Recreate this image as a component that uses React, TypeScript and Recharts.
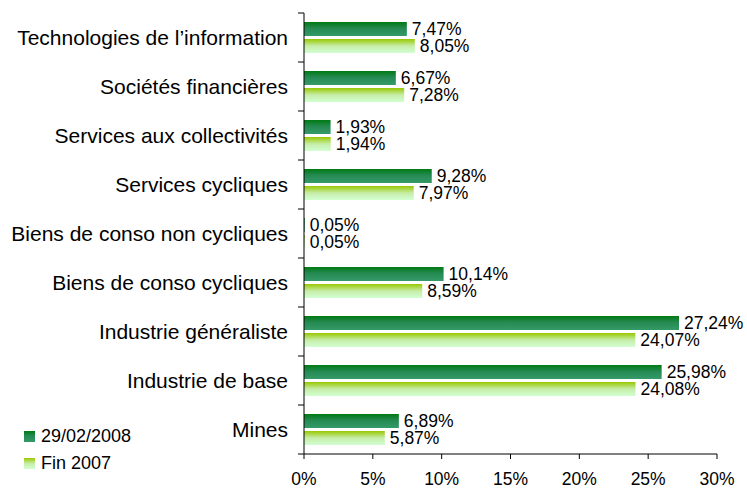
import React from "react";
import { BarChart, Bar, XAxis, YAxis, LabelList } from "recharts";

const categories = [
  "Technologies de l’information",
  "Sociétés financières",
  "Services aux collectivités",
  "Services cycliques",
  "Biens de conso non cycliques",
  "Biens de conso cycliques",
  "Industrie généraliste",
  "Industrie de base",
  "Mines",
];
const feb2008 = [7.47, 6.67, 1.93, 9.28, 0.05, 10.14, 27.24, 25.98, 6.89];
const end2007 = [8.05, 7.28, 1.94, 7.97, 0.05, 8.59, 24.07, 24.08, 5.87];
const xTicks = [0, 5, 10, 15, 20, 25, 30];
const seriesNames = ["29/02/2008", "Fin 2007"];

const data = categories.map((c, i) => ({ name: c, a: feb2008[i], b: end2007[i] }));

const FONT = "'Liberation Sans', Arial, sans-serif";
const fmt = (v: number) => v.toFixed(2).replace(".", ",") + "%";

const CatTick = (props: any) => {
  const { x, y, payload, index, visibleTicksCount } = props;
  const off = payload && typeof payload.offset === "number" && payload.offset > 0 ? payload.offset : 24.5;
  const axisX = x + 16;
  return (
    <g>
      <line x1={axisX - 6} x2={axisX} y1={y - off} y2={y - off} stroke="#000" strokeWidth={1} />
      {index === visibleTicksCount - 1 ? (
        <line x1={axisX - 6} x2={axisX} y1={y + off} y2={y + off} stroke="#000" strokeWidth={1} />
      ) : null}
      <text x={x} y={y} dy="0.355em" textAnchor="end" fontSize={21} fill="#000" fontFamily={FONT}>
        {payload.value}
      </text>
    </g>
  );
};

export default function App() {
  return (
    <div style={{ position: "absolute", left: 0, top: 0, width: 747, height: 488, background: "#fff" }}>
      <BarChart
        width={747}
        height={488}
        data={data}
        layout="vertical"
        margin={{ top: 13, right: 30, bottom: 0, left: 0 }}
        barSize={14}
        barGap={3}
      >
        <defs>
          <linearGradient id="gA" x1="0" y1="0" x2="0" y2="1">
            <stop offset="0%" stopColor="#007a12" />
            <stop offset="45%" stopColor="#258a52" />
            <stop offset="100%" stopColor="#349a68" />
          </linearGradient>
          <linearGradient id="gB" x1="0" y1="0" x2="0" y2="1">
            <stop offset="0%" stopColor="#99c800" />
            <stop offset="50%" stopColor="#c6eda8" />
            <stop offset="100%" stopColor="#d2ffd2" />
          </linearGradient>
        </defs>
        <XAxis
          type="number"
          domain={[0, 30]}
          ticks={xTicks}
          interval={0}
          tickFormatter={(v: number) => v + "%"}
          height={34}
          tickSize={5}
          tickMargin={14}
          stroke="#000"
          tick={{ fontSize: 17.5, fill: "#000", fontFamily: FONT }}
          axisLine={{ stroke: "#000" }}
          tickLine={{ stroke: "#000" }}
        />
        <YAxis
          type="category"
          dataKey="name"
          width={304}
          interval={0}
          axisLine={{ stroke: "#000" }}
          tickLine={false}
          tickSize={6}
          tickMargin={10}
          tick={<CatTick />}
        />
        <Bar dataKey="a" name={seriesNames[0]} fill="url(#gA)" isAnimationActive={false}>
          <LabelList
            dataKey="a"
            position="right"
            offset={5}
            formatter={(v: any) => fmt(Number(v))}
            style={{ fontSize: 17.5, fill: "#000", fontFamily: FONT }}
          />
        </Bar>
        <Bar dataKey="b" name={seriesNames[1]} fill="url(#gB)" isAnimationActive={false}>
          <LabelList
            dataKey="b"
            position="right"
            offset={5}
            formatter={(v: any) => fmt(Number(v))}
            style={{ fontSize: 17.5, fill: "#000", fontFamily: FONT }}
          />
        </Bar>
      </BarChart>
      <div style={{ position: "absolute", left: 24, top: 423, fontFamily: FONT, fontSize: 18, color: "#000" }}>
        {seriesNames.map((n, i) => (
          <div key={n} style={{ display: "flex", alignItems: "center", height: 27 }}>
            <span
              style={{
                display: "inline-block",
                width: 11,
                height: 11,
                marginRight: 6,
                background:
                  i === 0
                    ? "linear-gradient(#007a12, #258a52 45%, #349a68)"
                    : "linear-gradient(#99c800, #c6eda8 50%, #d2ffd2)",
              }}
            />
            <span>{n}</span>
          </div>
        ))}
      </div>
    </div>
  );
}
